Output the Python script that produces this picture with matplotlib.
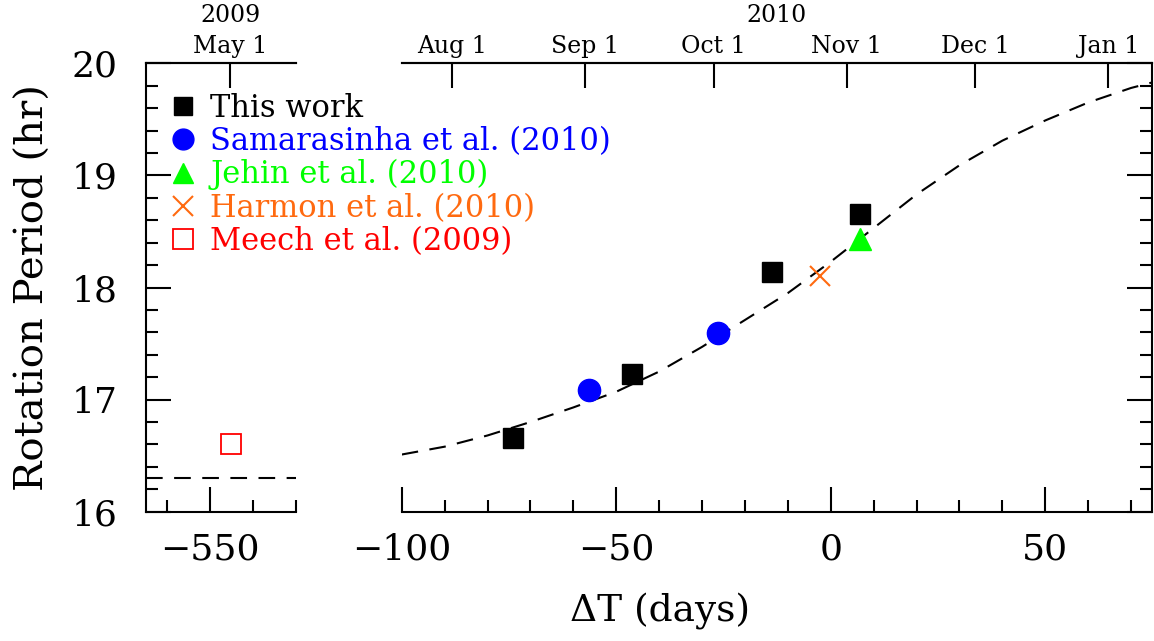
import numpy as np
import matplotlib.pyplot as plt
from matplotlib.lines import Line2D
from matplotlib.ticker import MultipleLocator, NullLocator

plt.rcParams['font.family'] = 'DejaVu Serif'

# periodos de rotacion (hr) frente a dias desde el perihelio
work_dt = [-74.0, -46.4, -13.6, 6.8]
work_p = [16.66, 17.23, 18.14, 18.66]
sama_dt = [-56.3, -26.2]
sama_p = [17.09, 17.59]
jehin_dt = [6.8]
jehin_p = [18.43]
harmon_dt = [-2.6]
harmon_p = [18.10]
meech_dt = [-545.1]
meech_p = [16.60]

# modelo (linea discontinua)
model_dt = [-100, -90, -80, -70, -60, -50, -40, -30, -20, -10, 0, 10, 20, 30, 40, 50, 60, 70, 75]
model_p = [16.51, 16.58, 16.68, 16.80, 16.93, 17.07, 17.25, 17.47, 17.71, 17.95,
           18.23, 18.53, 18.83, 19.09, 19.31, 19.49, 19.65, 19.78, 19.83]
model_2009 = 16.3

# fechas del eje superior
perihelion = np.datetime64('2010-10-28T06:14')
top_dates_2010 = ['2010-08-01', '2010-09-01', '2010-10-01', '2010-11-01', '2010-12-01', '2011-01-01']
top_labels_2010 = ['Aug 1', 'Sep 1', 'Oct 1', 'Nov 1', 'Dec 1', 'Jan 1']
top_dates_2009 = ['2009-05-01']
top_labels_2009 = ['May 1']


def offs(dates):
    return [(np.datetime64(d + 'T00:00') - perihelion) / np.timedelta64(1, 'D') for d in dates]


W, H = 1154, 641
fig = plt.figure(figsize=(W / 100, H / 100), dpi=100)
bot = 1 - 511.7 / H
hgt = (511.7 - 63.3) / H
ax1 = fig.add_axes([145.7 / W, bot, (296 - 145.7) / W, hgt])
ax2 = fig.add_axes([401.7 / W, bot, (1152.5 - 401.7) / W, hgt])

lw = 1.5
dash = (0, (8, 5.5))

for ax in (ax1, ax2):
    ax.set_ylim(16, 20)
    ax.xaxis.set_major_locator(MultipleLocator(50))
    ax.xaxis.set_minor_locator(MultipleLocator(10))
    ax.yaxis.set_major_locator(MultipleLocator(1))
    ax.yaxis.set_minor_locator(MultipleLocator(0.2))
    ax.tick_params(which='major', direction='in', length=18, width=lw, labelsize=26)
    ax.tick_params(which='minor', direction='in', length=8.6, width=lw)
    ax.tick_params(axis='x', which='both', top=False, pad=15)
    for s in ax.spines.values():
        s.set_linewidth(lw)

ax1.set_xlim(-565, -530)
ax2.set_xlim(-100, 75)
ax1.spines['right'].set_visible(False)
ax2.spines['left'].set_visible(False)
ax1.tick_params(axis='y', which='both', right=False, pad=20)
ax2.tick_params(axis='y', which='both', left=False, right=True, labelleft=False)

# modelo
ax1.axhline(model_2009, color='black', lw=lw, ls=dash)
ax2.plot(model_dt, model_p, color='black', lw=lw, ls=dash)

# datos
ax2.plot(work_dt, work_p, 's', color='black', ms=14.5, ls='none')
ax2.plot(sama_dt, sama_p, 'o', color='blue', ms=16, ls='none')
ax2.plot(jehin_dt, jehin_p, '^', color='#00ff00', ms=16, ls='none')
ax2.plot(harmon_dt, harmon_p, 'x', color='#ff6a10', ms=15, mew=1.5, ls='none')
ax1.plot(meech_dt, meech_p, 's', mfc='none', mec='red', ms=15, mew=1.3, ls='none')

# eje superior con fechas
for ax, dates, labs in ((ax1, top_dates_2009, top_labels_2009), (ax2, top_dates_2010, top_labels_2010)):
    sec = ax.secondary_xaxis('top')
    sec.set_xticks(offs(dates))
    sec.set_xticklabels(labs)
    sec.xaxis.set_minor_locator(NullLocator())
    sec.tick_params(direction='in', length=18, width=lw, labelsize=17, pad=4)
    sec.spines['top'].set_linewidth(lw)

fig.text(231 / W, 1 - 15 / H, '2009', ha='center', va='center', fontsize=17)
fig.text(777 / W, 1 - 15 / H, '2010', ha='center', va='center', fontsize=17)

fig.text(33 / W, 1 - 287.5 / H, 'Rotation Period (hr)', rotation=90,
         ha='center', va='center', fontsize=29)
fig.text(660 / W, 1 - 612 / H, 'ΔT (days)', ha='center', va='center', fontsize=27)

# leyenda
handles = [
    Line2D([], [], marker='s', color='black', ms=13, ls='none'),
    Line2D([], [], marker='o', color='blue', ms=15, ls='none'),
    Line2D([], [], marker='^', color='#00ff00', ms=15, ls='none'),
    Line2D([], [], marker='x', color='#ff6a10', ms=14, mew=1.5, ls='none'),
    Line2D([], [], marker='s', mfc='none', mec='red', ms=14, mew=1.3, ls='none'),
]
labels = ['This work', 'Samarasinha et al. (2010)', 'Jehin et al. (2010)',
          'Harmon et al. (2010)', 'Meech et al. (2009)']
colors = ['black', 'blue', '#00ff00', '#ff6a10', 'red']
leg = fig.legend(handles, labels, loc='upper left', bbox_to_anchor=(169 / W, 1 - 93 / H),
                 frameon=False, fontsize=22, handlelength=0.9, handletextpad=0.45,
                 labelspacing=0.07, borderpad=0, borderaxespad=0)
for t, c in zip(leg.get_texts(), colors):
    t.set_color(c)

fig.savefig('out.png', dpi=100)
